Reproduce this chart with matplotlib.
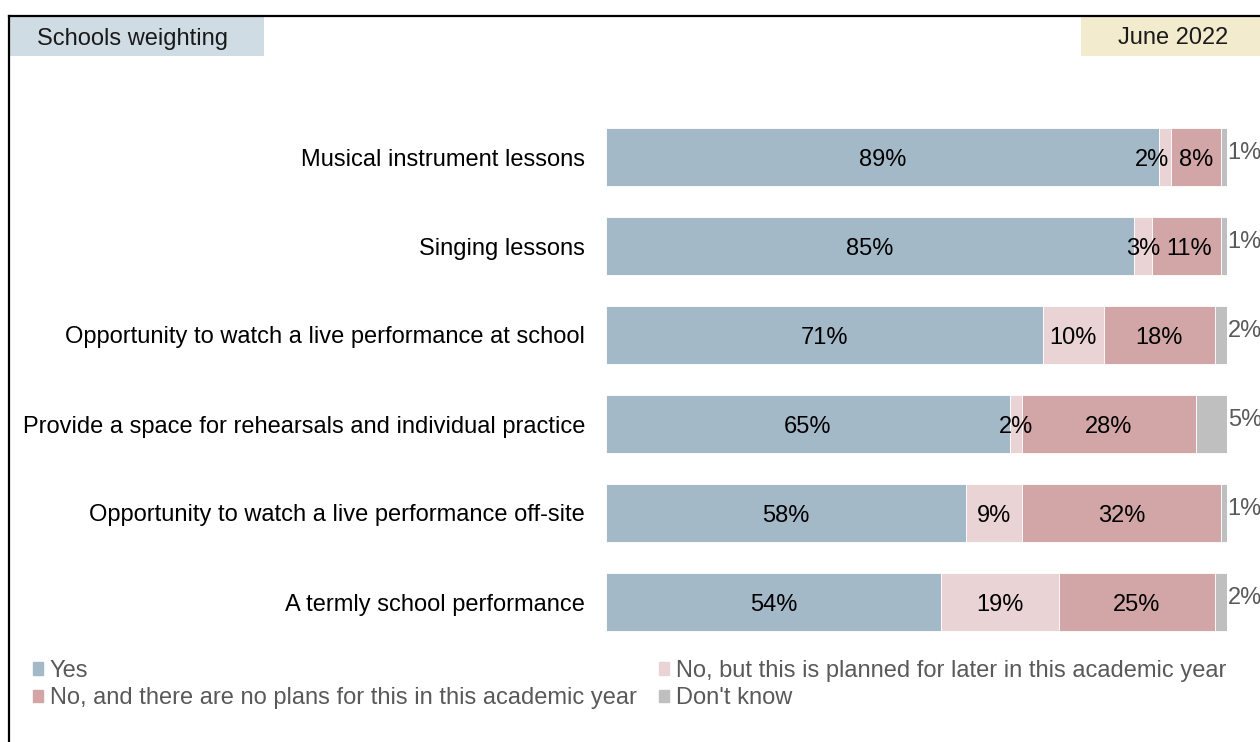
import matplotlib
matplotlib.use("Agg")
from matplotlib import pyplot as plt
from matplotlib.lines import Line2D
from matplotlib.patches import Rectangle, Patch

plt.rcParams['font.family'] = ['Liberation Sans', 'DejaVu Sans']

# Survey results, share of schools (%)
activities = [
    "Musical instrument lessons",
    "Singing lessons",
    "Opportunity to watch a live performance at school",
    "Provide a space for rehearsals and individual practice",
    "Opportunity to watch a live performance off-site",
    "A termly school performance",
]
yes = [89, 85, 71, 65, 58, 54]
planned = [2, 3, 10, 2, 9, 19]
no_plans = [8, 11, 18, 28, 32, 25]
dont_know = [1, 1, 2, 5, 1, 2]

series_names = [
    "Yes",
    "No, but this is planned for later in this academic year",
    "No, and there are no plans for this in this academic year",
    "Don't know",
]
colors = ["#a3b9c8", "#e9d3d5", "#d2a6a7", "#bfbfbf"]

W, H = 1260, 742
fig = plt.figure(figsize=(W / 100, H / 100), dpi=100)

def px_box(left, top, right, bottom):
    return [left / W, 1 - bottom / H, (right - left) / W, (bottom - top) / H]

# outer frame (left and top edges only)
fig.add_artist(Line2D([9 / W, 9 / W], [0, 1 - 16 / H], color="black", lw=1.6))
fig.add_artist(Line2D([9 / W, 1], [1 - 16 / H, 1 - 16 / H], color="black", lw=1.6))

# header boxes
fig.add_artist(Rectangle((10 / W, 1 - 56 / H), 254 / W, 40 / H,
                         transform=fig.transFigure, color="#d0dce4", lw=0))
fig.text(37 / W, 1 - 38.5 / H, "Schools weighting", fontsize=17,
         va="center", ha="left", color="#1a1a1a")
fig.add_artist(Rectangle((1081 / W, 1 - 56 / H), 179 / W, 40 / H,
                         transform=fig.transFigure, color="#f3ebcd", lw=0))
fig.text(1173 / W, 1 - 38.5 / H, "June 2022", fontsize=17,
         va="center", ha="center", color="#1a1a1a")

ax = fig.add_axes(px_box(606, 112.5, 1227, 646.5))
y = list(range(len(activities)))
data = [yes, planned, no_plans, dont_know]
# 100% stacked: each row is scaled to its own total
totals = [sum(vals[i] for vals in data) for i in y]
shares = [[vals[i] * 100 / totals[i] for i in y] for vals in data]

left = [0] * len(activities)
for vals, col in zip(shares, colors):
    ax.barh(y, vals, left=left, height=0.65, color=col, edgecolor="white", linewidth=0.6)
    left = [l + v for l, v in zip(left, vals)]

# value labels
for i in y:
    start = 0
    for k in range(len(data)):
        v = shares[k][i]
        label = f"{data[k][i]}%"
        if k < 3:
            cx = start + v / 2
            if k == 1 and i == 0:
                cx -= 2
            if k == 2 and i == 1:
                cx += 0.4
            ax.text(cx, i + 0.03, label, ha="center", va="center",
                    fontsize=17, color="black")
        else:
            ax.text(start + v + 0.1, i - 0.05, label, ha="left", va="center",
                    fontsize=17, color="#595959")
        start += v

ax.set_xlim(0, 100)
ax.set_ylim(len(activities) - 0.5, -0.5)
ax.set_yticks(y)
ax.set_yticklabels(activities, fontsize=17, color="black")
ax.tick_params(axis="y", length=0, pad=15)
ax.set_xticks([])
for s in ax.spines.values():
    s.set_visible(False)

handles = [Patch(color=c) for c in colors]
order = [0, 2, 1, 3]
fig.legend([handles[i] for i in order], [series_names[i] for i in order],
           loc="upper left", bbox_to_anchor=(33 / W, 1 - 660 / H), ncol=2,
           frameon=False, fontsize=17, handlelength=0.42, handleheight=0.42,
           handletextpad=0.3, columnspacing=0.93, labelspacing=0.23,
           labelcolor="#595959", borderaxespad=0, borderpad=0)

fig.savefig("out.png", dpi=100)
